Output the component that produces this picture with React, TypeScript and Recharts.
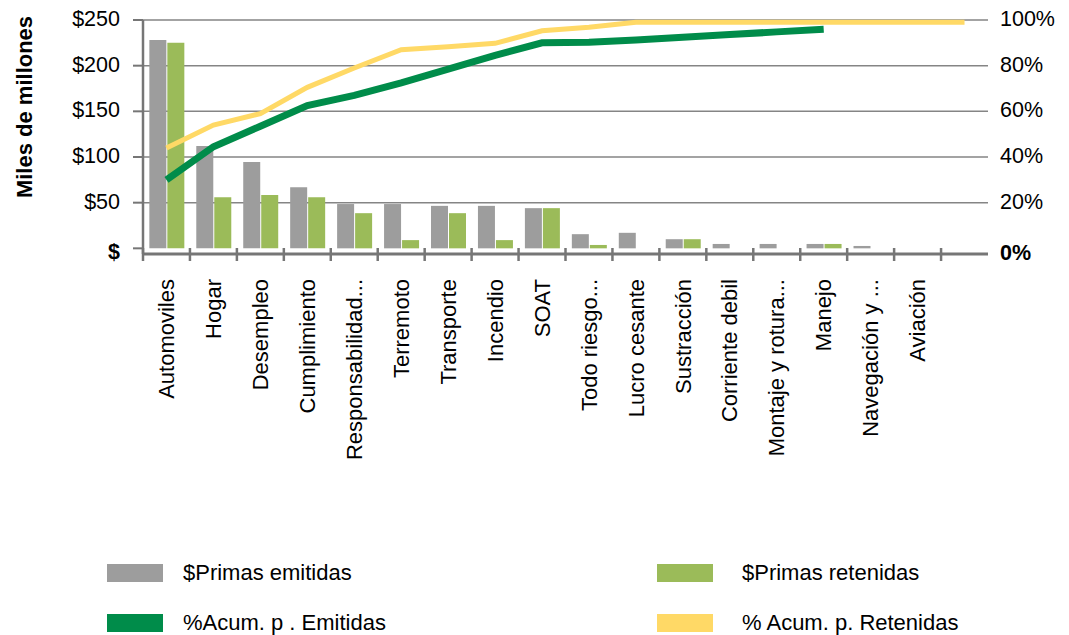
import { Bar, CartesianGrid, ComposedChart, Line, XAxis, YAxis } from 'recharts';

const categories = [
  'Automoviles', 'Hogar', 'Desempleo', 'Cumplimiento', 'Responsabilidad...', 'Terremoto',
  'Transporte', 'Incendio', 'SOAT', 'Todo riesgo...', 'Lucro cesante', 'Sustracción',
  'Corriente debil', 'Montaje y rotura...', 'Manejo', 'Navegación y ...', 'Aviación', '',
];
const primasEmitidas = [228, 112, 94.5, 67, 48.5, 48.5, 46.5, 46.5, 44, 15.5, 17, 10, 4.8, 4.8, 4.8, 2.6, 0, null];
const primasRetenidas = [225, 56, 58.5, 56, 38.5, 9, 38.5, 9, 44, 3.7, 0, 10, 0, 0, 4.8, 0, 0, null];
const acumEmitidas = [30, 44.5, 53.5, 62.5, 67, 72.5, 78.5, 84.5, 90, 90.3, 91.2, 92.4, 93.6, 94.8, 96, null, null, null];
const acumRetenidas = [44, 54, 59, 70.5, 79, 87, 88.3, 89.8, 95.3, 96.8, 99, 99, 99, 99, 99, 99, 99, 99];

const moneyTicks = [0, 50, 100, 150, 200, 250];
const pctTicks = [0, 20, 40, 60, 80, 100];

const legendItems = [
  { name: '$Primas emitidas', color: '#9d9d9d' },
  { name: '$Primas retenidas', color: '#9bbb59' },
  { name: '%Acum. p . Emitidas', color: '#008c4a' },
  { name: '% Acum. p. Retenidas', color: '#ffd966' },
];

const data = categories.map((name, i) => ({
  name,
  emitidas: primasEmitidas[i],
  retenidas: primasRetenidas[i],
  acumEmi: acumEmitidas[i],
  acumRet: acumRetenidas[i],
}));

const W = 1069;
const LEFT_W = 143;
const RIGHT_W = 81;
const BAND = (W - LEFT_W - RIGHT_W) / categories.length;
const FONT = "'Liberation Sans', Arial, sans-serif";
const AXIS = '#767676';

const XTick = (props: any) => {
  const { x, y, payload } = props;
  const ty = y + 25;
  return (
    <g>
      <line x1={x - BAND / 2} x2={x - BAND / 2} y1={y - 6} y2={y + 7} stroke={AXIS} strokeWidth={2.5} />
      <text x={x} y={ty} transform={`rotate(-90 ${x} ${ty})`} textAnchor="end" dy="0.35em"
        fontSize={22} fill="#000" fontFamily={FONT}>{payload.value}</text>
    </g>
  );
};

const MoneyTick = (props: any) => {
  const { x, y, payload } = props;
  const zero = payload.value === 0;
  return (
    <text x={x} y={y + (zero ? 4 : -1)} textAnchor="end" dominantBaseline="central" fontSize={21.5}
      fontWeight={zero ? 'bold' : 'normal'} fill="#000" fontFamily={FONT}>
      {zero ? '$' : `$${payload.value}`}
    </text>
  );
};

const PctTick = (props: any) => {
  const { x, y, payload } = props;
  const zero = payload.value === 0;
  return (
    <text x={x} y={y + (zero ? 5 : -1)} textAnchor="start" dominantBaseline="central" fontSize={21.5}
      fontWeight={zero ? 'bold' : 'normal'} fill="#000" fontFamily={FONT}>
      {`${payload.value}%`}
    </text>
  );
};

export default function App() {
  return (
    <div style={{ position: 'absolute', left: 0, top: 0, width: W, height: 635, fontFamily: FONT, background: '#fff' }}>
      <ComposedChart width={W} height={520} data={data} margin={{ top: 20, right: 0, bottom: 46, left: 0 }}
        barCategoryGap="13.5%" barGap={1}>
        <CartesianGrid vertical={false} horizontalValues={[50, 100, 150, 200, 250]} stroke="#858585" strokeWidth={1.5} />
        <XAxis dataKey="name" interval={0} height={220} tickSize={0} tickMargin={0} tick={<XTick />}
          axisLine={{ stroke: AXIS, strokeWidth: 3 }} tickLine={false} />
        <YAxis width={LEFT_W} domain={[-6.2, 250]} ticks={moneyTicks} tickSize={10} tickMargin={13}
          tick={<MoneyTick />} axisLine={{ stroke: AXIS, strokeWidth: 2.5 }} tickLine={{ stroke: AXIS, strokeWidth: 2 }} />
        <YAxis yAxisId="pct" orientation="right" width={RIGHT_W} domain={[-2.47, 100]} ticks={pctTicks}
          tickSize={0} tickMargin={12} tick={<PctTick />} axisLine={false} tickLine={false} />
        <Bar dataKey="emitidas" name={legendItems[0].name} fill={legendItems[0].color} isAnimationActive={false} />
        <Bar dataKey="retenidas" name={legendItems[1].name} fill={legendItems[1].color} isAnimationActive={false} />
        <Line yAxisId="pct" dataKey="acumEmi" name={legendItems[2].name} stroke={legendItems[2].color}
          strokeWidth={7} dot={false} activeDot={false} isAnimationActive={false} />
        <Line yAxisId="pct" dataKey="acumRet" name={legendItems[3].name} stroke={legendItems[3].color}
          strokeWidth={5} dot={false} activeDot={false} isAnimationActive={false} />
      </ComposedChart>

      <svg style={{ position: 'absolute', left: 0, top: 0 }} width={60} height={260}>
        <text x={24} y={107} transform="rotate(-90 24 107)" textAnchor="middle" dominantBaseline="central"
          fontSize={22} fontWeight="bold" fill="#000" fontFamily={FONT}>Miles de millones</text>
      </svg>

      {legendItems.map((item, i) => {
        const col = i % 2;
        const row = Math.floor(i / 2);
        return (
          <div key={item.name} style={{ position: 'absolute', left: col ? 657 : 107, top: row ? 612 : 562,
            display: 'flex', alignItems: 'center', height: 22 }}>
            <div style={{ width: 56, height: 18, background: item.color }} />
            <span style={{ marginLeft: col ? 29 : 20, fontSize: 22, color: '#000', whiteSpace: 'nowrap' }}>{item.name}</span>
          </div>
        );
      })}
    </div>
  );
}
